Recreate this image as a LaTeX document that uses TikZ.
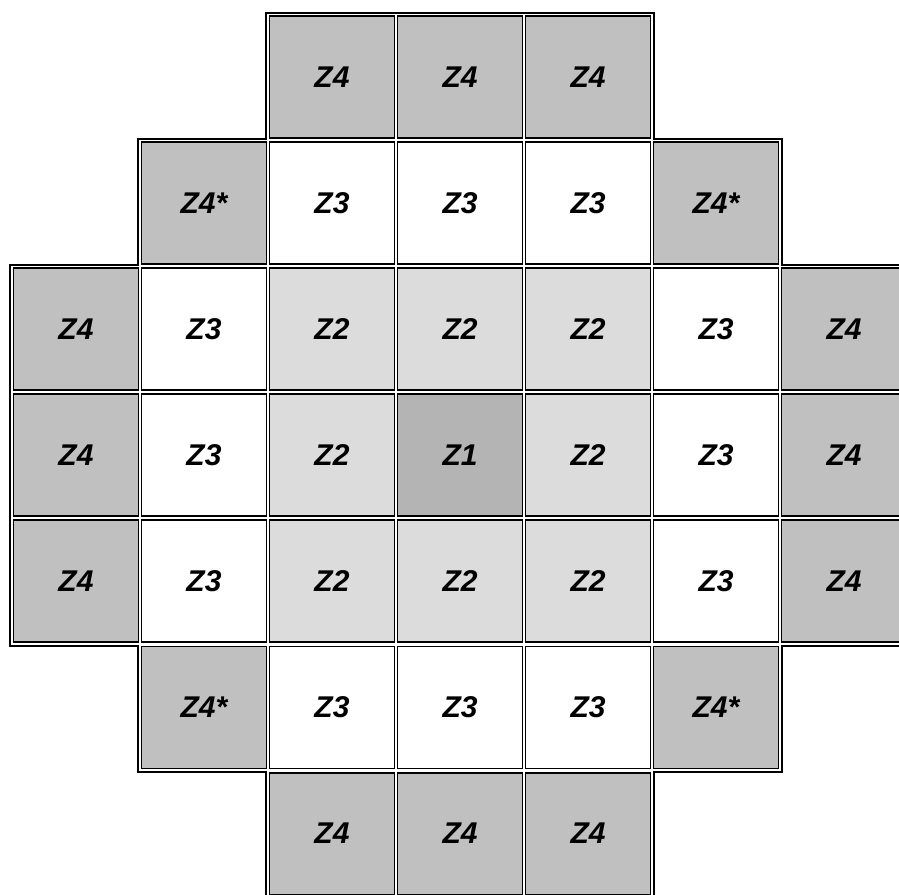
\documentclass[tikz,border=0pt]{standalone}
\usepackage{fontspec}
\setmainfont{Liberation Sans}
\definecolor{zfourc}{gray}{0.753}
\definecolor{ztwoc}{gray}{0.863}
\definecolor{zonec}{gray}{0.706}
\begin{document}
\begin{tikzpicture}[x=1pt,y=-1pt,
  cellbox/.style={draw=black, line width=1.9pt, minimum width=125pt, minimum height=122pt,
    inner sep=0pt, font=\fontsize{30}{32}\selectfont\bfseries\itshape},
  outline/.style={draw=black, line width=1.9pt}]
\useasboundingbox (0,0) rectangle (899,894);
\clip (0,0) rectangle (899,894);
\foreach \r/\c/\t/\f in {
  0/2/Z4/zfourc, 0/3/Z4/zfourc, 0/4/Z4/zfourc,
  1/1/Z4*/zfourc, 1/2/Z3/white, 1/3/Z3/white, 1/4/Z3/white, 1/5/Z4*/zfourc,
  2/0/Z4/zfourc, 2/1/Z3/white, 2/2/Z2/ztwoc, 2/3/Z2/ztwoc, 2/4/Z2/ztwoc, 2/5/Z3/white, 2/6/Z4/zfourc,
  3/0/Z4/zfourc, 3/1/Z3/white, 3/2/Z2/ztwoc, 3/3/Z1/zonec, 3/4/Z2/ztwoc, 3/5/Z3/white, 3/6/Z4/zfourc,
  4/0/Z4/zfourc, 4/1/Z3/white, 4/2/Z2/ztwoc, 4/3/Z2/ztwoc, 4/4/Z2/ztwoc, 4/5/Z3/white, 4/6/Z4/zfourc,
  5/1/Z4*/zfourc, 5/2/Z3/white, 5/3/Z3/white, 5/4/Z3/white, 5/5/Z4*/zfourc,
  6/2/Z4/zfourc, 6/3/Z4/zfourc, 6/4/Z4/zfourc}
{
  \node[cellbox, fill=\f] (cell-\r-\c) at ({76+128*\c},{77+126.1*\r}) {\t};
}
\draw[outline] (266.2,12.7) -- (653.8,12.7) -- (653.8,138.8) -- (781.8,138.8)
  -- (781.8,264.9) -- (909.8,264.9) -- (909.8,645.7) -- (781.8,645.7)
  -- (781.8,771.8) -- (653.8,771.8) -- (653.8,897.9) -- (266.2,897.9)
  -- (266.2,771.8) -- (138.2,771.8) -- (138.2,645.7) -- (10.2,645.7)
  -- (10.2,264.9) -- (138.2,264.9) -- (138.2,138.8) -- (266.2,138.8) -- cycle;
\end{tikzpicture}
\end{document}
